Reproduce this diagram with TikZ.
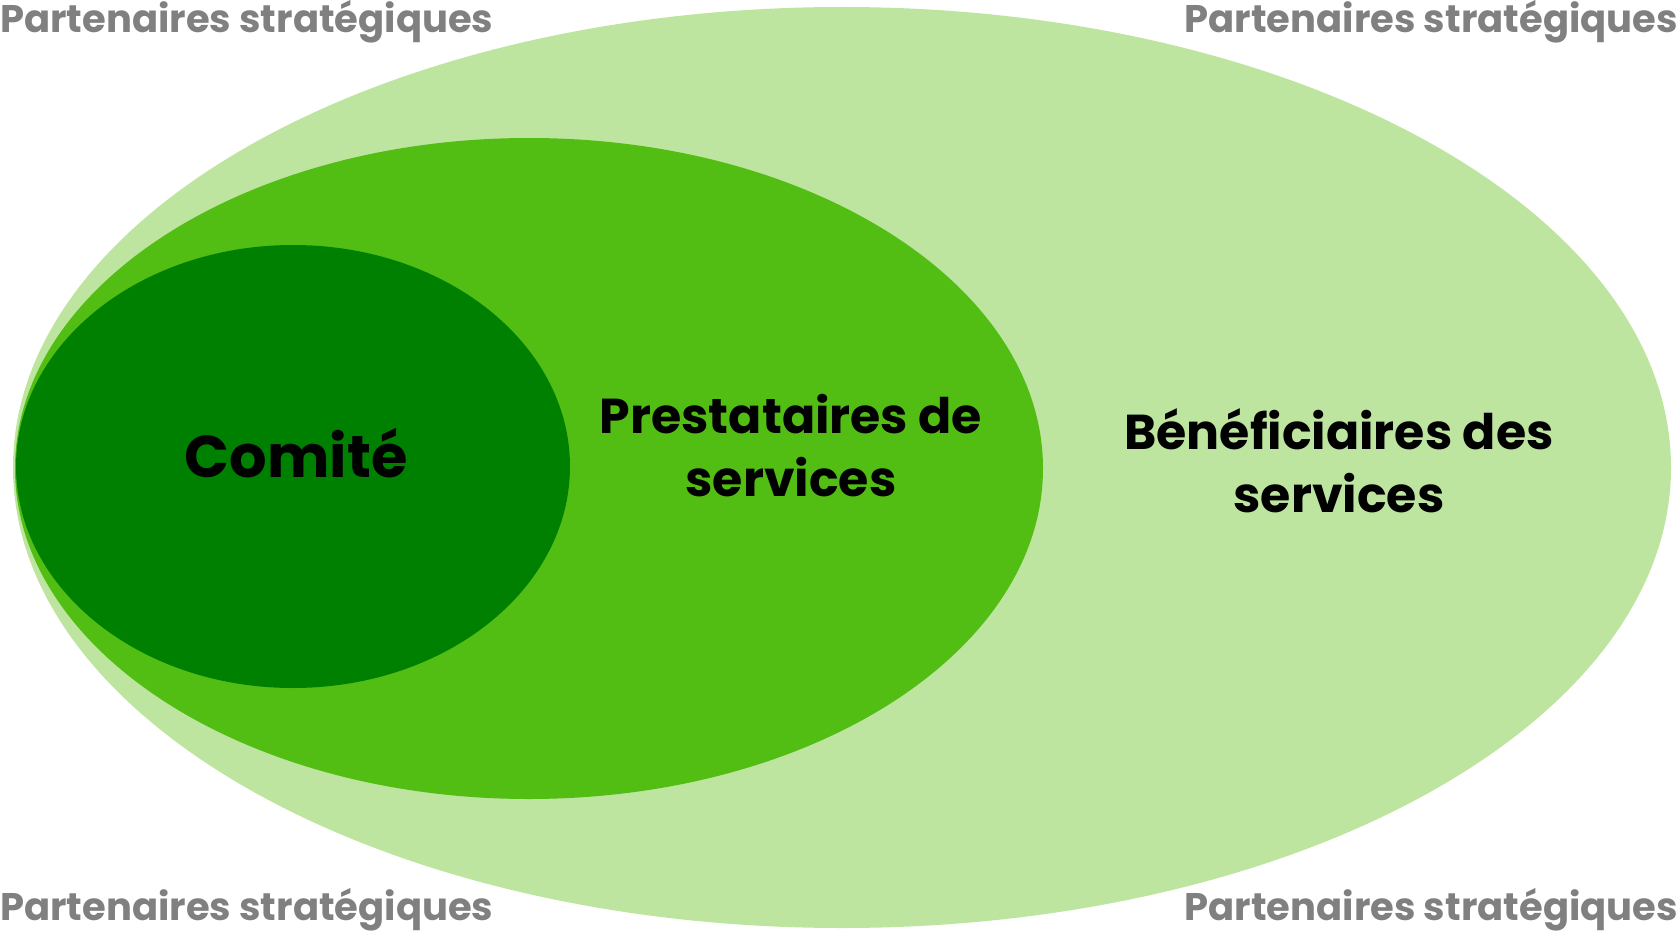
\documentclass[tikz,border=0pt]{standalone}
\usepackage{fontspec}
\setmainfont{Poppins}
\usetikzlibrary{positioning}
\definecolor{outergreen}{RGB}{189,229,160}
\definecolor{midgreen}{RGB}{82,190,20}
\definecolor{innergreen}{RGB}{0,128,0}
\definecolor{partgray}{RGB}{128,128,128}

\begin{document}
\begin{tikzpicture}[x=1pt, y=-1pt,
    lbl/.style={font=\bfseries\fontsize{49}{63}\selectfont, align=center, inner sep=0pt},
    part/.style={font=\bfseries\fontsize{38.5}{40}\selectfont, text=partgray, inner sep=0pt}]
    \useasboundingbox (0,0) rectangle (1679,931);

    % nested groups
    \fill[outergreen] (842,467.5) ellipse [x radius=829pt, y radius=460.5pt];
    \fill[midgreen] (529,468.5) ellipse [x radius=514pt, y radius=330.5pt];
    \fill[innergreen] (293,466.5) ellipse [x radius=277pt, y radius=221.5pt];

    \node[lbl, font=\bfseries\fontsize{59}{63}\selectfont, anchor=base] (comite) at (296,477) {Comité};
    \node[lbl] (prest) at (791,446) {Prestataires de\\services};
    \node[lbl] (benef) at (1339,461) {Bénéficiaires des\\services};

    % corners
    \node[part, anchor=base west] (ptl) at (0,33) {Partenaires stratégiques};
    \node[part, anchor=base east] (ptr) at (1678,33) {Partenaires stratégiques};
    \node[part, anchor=base west] (pbl) at (0,920) {Partenaires stratégiques};
    \node[part, anchor=base east] (pbr) at (1678,920) {Partenaires stratégiques};
\end{tikzpicture}
\end{document}
